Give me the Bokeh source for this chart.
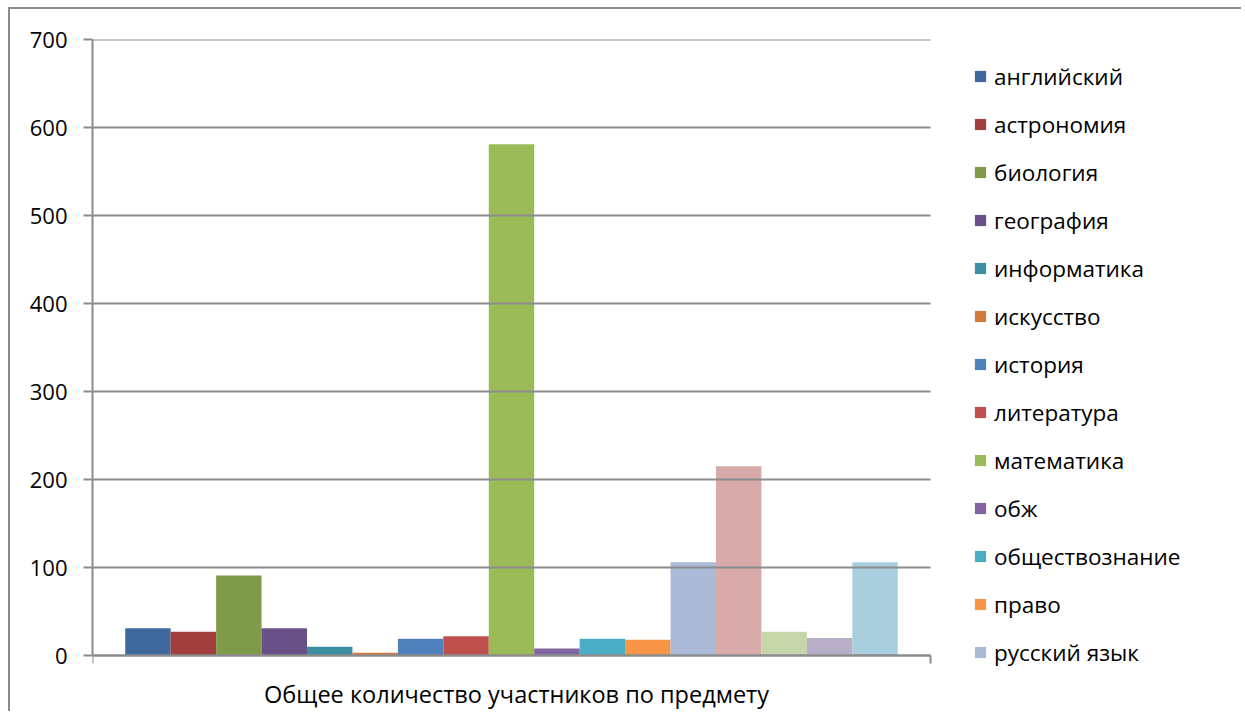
from bokeh.plotting import figure
from bokeh.models import (ColumnDataSource, Range1d, FixedTicker, Legend, LegendItem, Label)
from bokeh.embed import file_html
from bokeh.resources import INLINE

# ---- data ----
subjects = ["английский", "астрономия", "биология", "география", "информатика",
            "искусство", "история", "литература", "математика", "обж",
            "обществознание", "право", "русский язык", "технология", "физика",
            "физическая культура", "химия"]
counts = [31, 27, 91, 31, 10, 3, 19, 22, 581, 8, 19, 18, 106, 215, 27, 20, 106]
colors = ["#3F699D", "#A03F3D", "#7F9A48", "#6A5088", "#3A8FA3", "#D47B3A",
          "#4F81BD", "#C0504D", "#9BBB59", "#8064A2", "#4BACC6", "#F79646",
          "#AABAD7", "#D9AAAA", "#C6D5AA", "#B9AFC9", "#A9CEDE"]
category_label = "Общее количество участников по предмету"
y_ticks = [0, 100, 200, 300, 400, 500, 600, 700]
legend_count = 13  # entries visible in the reference (rest cut off)

FONT = "Open Sans"
GRID = "#8C8C8C"

W, H = 1233, 704
LEFT, TOP = 82, 30
PLOT_PX = 838          # pixel width of the category axis
AXIS_PX = 616          # pixel height of the value axis (0..700)
YMAX = 700
idx = list(range(len(subjects)))

gap = 0.72
x0, x1 = -0.5 - gap, len(subjects) - 0.5 + gap
frame_w = W - LEFT
frame_h = H - TOP
x_end = x0 + (x1 - x0) * frame_w / PLOT_PX           # frame extends under the legend
y_low = YMAX - YMAX * frame_h / AXIS_PX              # frame extends under the axis
px_per_unit = AXIS_PX / YMAX

p = figure(width=W, height=H, output_backend="svg", toolbar_location=None,
           x_range=Range1d(x0, x_end), y_range=Range1d(y_low, YMAX),
           min_border_left=LEFT, min_border_top=TOP, min_border_bottom=0,
           min_border_right=0)
p.margin = (7, 0, 0, 8)
p.styles = {"border-left": "2px solid #8C8C8C", "border-top": "2px solid #8C8C8C"}
p.outline_line_color = None
p.background_fill_color = "white"
p.border_fill_color = "white"

renderers = []
for i in idx:
    s = ColumnDataSource(dict(x=[idx[i]], top=[counts[i]]))
    r = p.vbar(x="x", top="top", width=1.0, bottom=0, source=s,
               fill_color=colors[i], line_color=None)
    renderers.append(r)

p.xgrid.visible = False
p.ygrid.visible = False
# horizontal grid lines limited to the category axis extent
grid_src = ColumnDataSource(dict(x0=[x0] * len(y_ticks), x1=[x1] * len(y_ticks),
                                 y=y_ticks))
p.segment(x0="x0", y0="y", x1="x1", y1="y", source=grid_src,
          line_color=GRID, line_width=2)

p.yaxis.bounds = (0, YMAX)
p.yaxis.ticker = FixedTicker(ticks=y_ticks)
p.yaxis.axis_line_color = GRID
p.yaxis.axis_line_width = 2
p.yaxis.major_tick_line_color = GRID
p.yaxis.major_tick_line_width = 2
p.yaxis.major_tick_out = 9
p.yaxis.major_tick_in = 0
p.yaxis.minor_tick_line_color = None
p.yaxis.major_label_text_font = FONT
p.yaxis.major_label_text_font_size = "22px"
p.yaxis.major_label_text_color = "black"
p.yaxis.major_label_standoff = 16

p.xaxis.fixed_location = 0
p.xaxis.bounds = (x0, x1)
p.xaxis.ticker = FixedTicker(ticks=[x0, x1])
p.xaxis.major_label_overrides = {x0: "", x1: ""}
p.xaxis.axis_line_color = GRID
p.xaxis.axis_line_width = 2
p.xaxis.major_tick_line_color = GRID
p.xaxis.major_tick_line_width = 2
p.xaxis.major_tick_out = 8
p.xaxis.major_tick_in = 0
p.xaxis.minor_tick_line_color = None

cat_label = Label(x=(x0 + x1) / 2, y=-38 / px_per_unit, x_offset=5, text=category_label,
                  text_align="center", text_baseline="alphabetic",
                  text_font=FONT, text_font_size="23.5px", text_color="black")
p.add_layout(cat_label)

items = [LegendItem(label=subjects[i], renderers=[renderers[i]]) for i in range(legend_count)]
legend = Legend(items=items, location=(PLOT_PX + 43, frame_h - AXIS_PX - 13),
                orientation="vertical",
                glyph_width=14, glyph_height=14, label_height=32, spacing=16,
                padding=0, margin=0, label_standoff=7,
                border_line_color=None, background_fill_alpha=0,
                label_text_font=FONT, label_text_font_size="22.5px",
                label_text_color="black")
p.add_layout(legend, "center")

open("out.html", "w").write(file_html(p, INLINE))
